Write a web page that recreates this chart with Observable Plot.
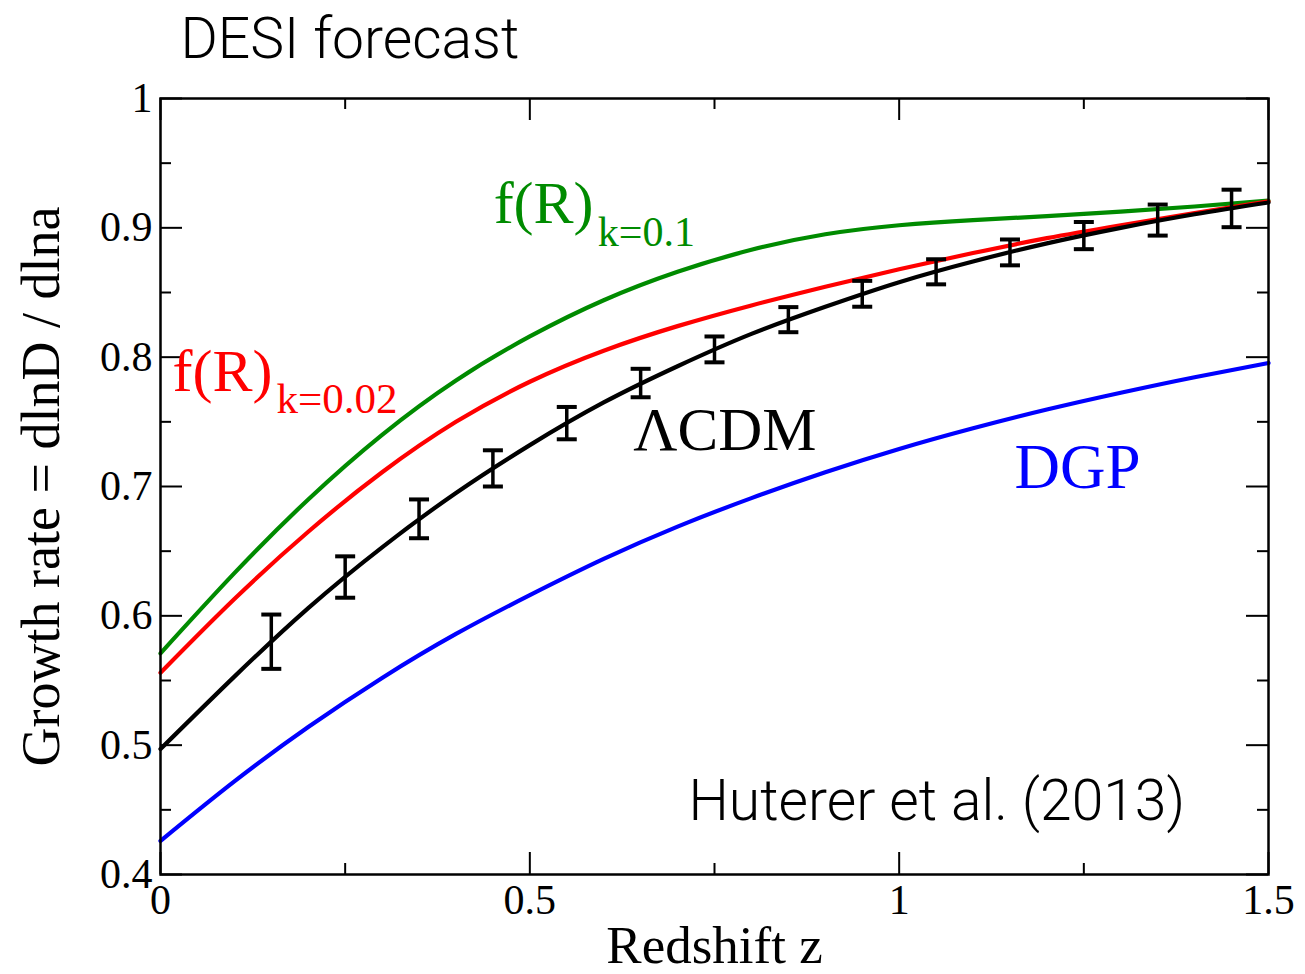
<!DOCTYPE html>
<html>
<head>
<meta charset="utf-8">
<script src="https://cdn.jsdelivr.net/npm/d3@7"></script>
<script src="https://cdn.jsdelivr.net/npm/@observablehq/plot@0.6"></script>
<style>
  html, body { margin: 0; padding: 0; background: #fff; }
</style>
</head>
<body>
<div id="chart"></div>
<script>
// Redshift grid shared by the model curves
const zGrid = [0, 0.1, 0.2, 0.3, 0.4, 0.5, 0.6, 0.7, 0.8, 0.9, 1.0, 1.1, 1.2, 1.3, 1.4, 1.5];

// Growth rate f = dlnD/dlna for each model
const fLCDM = [0.497, 0.553, 0.606, 0.653, 0.695, 0.732, 0.765, 0.793, 0.818, 0.839, 0.858, 0.874, 0.888, 0.900, 0.9105, 0.9196];
const fR01  = [0.571, 0.633, 0.690, 0.740, 0.782, 0.816, 0.844, 0.866, 0.883, 0.895, 0.902, 0.906, 0.909, 0.9125, 0.9165, 0.921];
const fR002 = [0.556, 0.613, 0.665, 0.711, 0.750, 0.781, 0.805, 0.824, 0.840, 0.8545, 0.868, 0.8805, 0.892, 0.902, 0.9115, 0.9205];
const fDGP  = [0.426, 0.472, 0.514, 0.552, 0.586, 0.616, 0.644, 0.669, 0.691, 0.711, 0.729, 0.745, 0.7595, 0.7725, 0.7845, 0.7955];

// DESI forecast measurements: bin centres, fiducial f and 1-sigma errors
const binZ   = [0.15, 0.25, 0.35, 0.45, 0.55, 0.65, 0.75, 0.85, 0.95, 1.05, 1.15, 1.25, 1.35, 1.45];
const binF   = [0.580, 0.630, 0.675, 0.714, 0.749, 0.780, 0.806, 0.829, 0.849, 0.866, 0.881, 0.894, 0.906, 0.915];
const binErr = [0.021, 0.016, 0.015, 0.014, 0.0125, 0.011, 0.010, 0.0097, 0.010, 0.0097, 0.010, 0.0105, 0.012, 0.0145];

// Axis ticks
const xMajor = [0, 0.5, 1, 1.5];
const xMinor = [0.25, 0.75, 1.25];
const yMajor = [0.4, 0.5, 0.6, 0.7, 0.8, 0.9, 1];
const yMinor = [0.45, 0.55, 0.65, 0.75, 0.85, 0.95];

const W = 1305, H = 974;
const mL = 160, mR = 37, mT = 98, mB = 100;
const innerW = W - mL - mR, innerH = H - mT - mB;
const major = 22, minor = 11;

const serif = "'Liberation Serif', 'Times New Roman', Times, serif";
const sans = "Roboto, 'Helvetica Neue', 'Liberation Sans', sans-serif";

const curve = (f) => zGrid.map((z, i) => ({z, f: f[i]}));
const bars = binZ.map((z, i) => ({z, f: binF[i], lo: binF[i] - binErr[i], hi: binF[i] + binErr[i]}));

// horizontal bar used as an error-bar cap; half width equals r
const capSymbol = {
  draw(context, size) {
    const w = Math.sqrt(size / Math.PI);
    context.moveTo(-w, 0);
    context.lineTo(w, 0);
  }
};

const green = "#008b00", red = "#ff0000", blue = "#0000ff";

const chart = Plot.plot({
  width: W,
  height: H,
  marginLeft: mL,
  marginRight: mR,
  marginTop: mT,
  marginBottom: mB,
  style: {fontFamily: serif, background: "#fff", color: "#000"},
  x: {domain: [0, 1.5]},
  y: {domain: [0.4, 1]},
  marks: [
    // model curves
    Plot.line(curve(fR01),  {x: "z", y: "f", stroke: green, strokeWidth: 4.2, curve: "natural"}),
    Plot.line(curve(fR002), {x: "z", y: "f", stroke: red,   strokeWidth: 4.2, curve: "natural"}),
    Plot.line(curve(fDGP),  {x: "z", y: "f", stroke: blue,  strokeWidth: 4.2, curve: "natural"}),
    Plot.line(curve(fLCDM), {x: "z", y: "f", stroke: "#000", strokeWidth: 4.2, curve: "natural"}),

    // forecast error bars
    Plot.ruleX(bars, {x: "z", y1: "lo", y2: "hi", stroke: "#000", strokeWidth: 3.5}),
    Plot.dot(bars, {x: "z", y: "lo", symbol: capSymbol, r: 10, stroke: "#000", strokeWidth: 4, fill: "none"}),
    Plot.dot(bars, {x: "z", y: "hi", symbol: capSymbol, r: 10, stroke: "#000", strokeWidth: 4, fill: "none"}),

    // frame and inward ticks on all four sides
    Plot.frame({stroke: "#000", strokeWidth: 2.5}),
    Plot.ruleY(yMajor, {insetRight: innerW - major, stroke: "#000", strokeWidth: 2}),
    Plot.ruleY(yMajor, {insetLeft: innerW - major, stroke: "#000", strokeWidth: 2}),
    Plot.ruleY(yMinor, {insetRight: innerW - minor, stroke: "#000", strokeWidth: 2}),
    Plot.ruleY(yMinor, {insetLeft: innerW - minor, stroke: "#000", strokeWidth: 2}),
    Plot.ruleX(xMajor, {insetTop: innerH - major, stroke: "#000", strokeWidth: 2}),
    Plot.ruleX(xMajor, {insetBottom: innerH - major, stroke: "#000", strokeWidth: 2}),
    Plot.ruleX(xMinor, {insetTop: innerH - minor, stroke: "#000", strokeWidth: 2}),
    Plot.ruleX(xMinor, {insetBottom: innerH - minor, stroke: "#000", strokeWidth: 2}),

    // tick labels
    Plot.axisY({ticks: yMajor, tickSize: 0, tickPadding: 8, fontSize: 42, label: null, tickFormat: (d) => String(d)}),
    Plot.axisX({ticks: xMajor, tickSize: 0, tickPadding: 10, fontSize: 42, label: null, tickFormat: (d) => String(d)}),

    // axis titles
    Plot.text(["Redshift z"], {frameAnchor: "bottom", dy: 88, textAnchor: "middle", lineAnchor: "bottom", fontSize: 53, fill: "#000"}),
    Plot.text(["Growth rate = dlnD / dlna"], {frameAnchor: "left", rotate: -90, dx: -102, textAnchor: "middle", lineAnchor: "bottom", fontSize: 54, fill: "#000"}),

    // title and reference
    Plot.text(["DESI forecast"], {frameAnchor: "top-left", dx: 20, dy: -41, textAnchor: "start", lineAnchor: "bottom", fontSize: 57, fontFamily: sans, fontWeight: 300, fill: "#000"}),
    Plot.text(["Huterer et al. (2013)"], {x: 0.7148, y: 0.4418, textAnchor: "start", lineAnchor: "bottom", fontSize: 57, fontFamily: sans, fontWeight: 300, fill: "#000"}),

    // model labels
    Plot.text(["f(R)"],  {x: 0.451, y: 0.904, textAnchor: "start", lineAnchor: "bottom", fontSize: 60, fill: green}),
    Plot.text(["k=0.1"], {x: 0.592, y: 0.886, textAnchor: "start", lineAnchor: "bottom", fontSize: 42, fill: green}),
    Plot.text(["f(R)"],  {x: 0.0163, y: 0.7742, textAnchor: "start", lineAnchor: "bottom", fontSize: 60, fill: red}),
    Plot.text(["k=0.02"],{x: 0.157, y: 0.7565, textAnchor: "start", lineAnchor: "bottom", fontSize: 43, fill: red}),
    Plot.text(["ΛCDM"],  {x: 0.640, y: 0.7286, textAnchor: "start", lineAnchor: "bottom", fontSize: 61, fill: "#000"}),
    Plot.text(["DGP"],   {x: 1.156, y: 0.6992, textAnchor: "start", lineAnchor: "bottom", fontSize: 63, fill: blue})
  ]
});

document.getElementById("chart").appendChild(chart);
</script>
</body>
</html>
